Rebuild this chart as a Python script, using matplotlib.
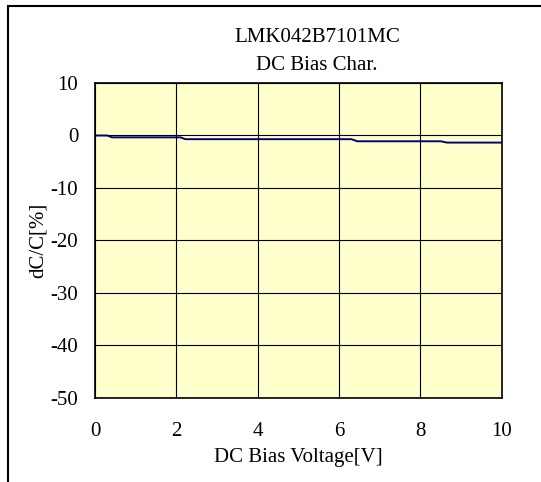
import matplotlib.pyplot as plt
from matplotlib.patches import Rectangle

plt.rcParams['font.family'] = ['Liberation Serif', 'DejaVu Serif']
plt.rcParams['axes.unicode_minus'] = False

# Curva de polarização DC
tensao = [0, 0.3, 0.42, 2.1, 2.22, 6.3, 6.45, 8.5, 8.65, 10]
dcc = [0, 0, -0.35, -0.35, -0.7, -0.7, -1.1, -1.1, -1.35, -1.35]

xticks = [0, 2, 4, 6, 8, 10]
yticks = [10, 0, -10, -20, -30, -40, -50]

fig = plt.figure(figsize=(5.41, 4.82), dpi=100)
ax = fig.add_axes([0.1756, 0.1743, 0.752, 0.6535])
ax.set_facecolor('#FFFFCC')

ax.plot(tensao, dcc, color='#000080', linewidth=1.4)

ax.set_xlim(0, 10)
ax.set_ylim(-50, 10)
ax.set_xticks(xticks)
ax.set_yticks(yticks)
ax.grid(True, color='black', linewidth=0.8)
ax.tick_params(length=0, labelsize=15)
ax.tick_params(axis='y', pad=12)
ax.tick_params(axis='x', pad=17)
for s in ax.spines.values():
    s.set_linewidth(1.2)

ax.set_xlabel('DC Bias Voltage[V]', fontsize=15, labelpad=5)
ax.set_ylabel('dC/C[%]', fontsize=15, labelpad=2)

fig.text(317 / 541, 1 - 37 / 482, 'LMK042B7101MC', ha='center', va='center', fontsize=15)
fig.text(317 / 541, 1 - 65 / 482, 'DC Bias Char.', ha='center', va='center', fontsize=15)

# Moldura externa
fig.patches.append(Rectangle((8 / 541, -0.1), 1.2, 1 - 6 / 482 + 0.1, transform=fig.transFigure,
                             fill=False, edgecolor='black', linewidth=1.5))

fig.savefig('out.png', dpi=100)
